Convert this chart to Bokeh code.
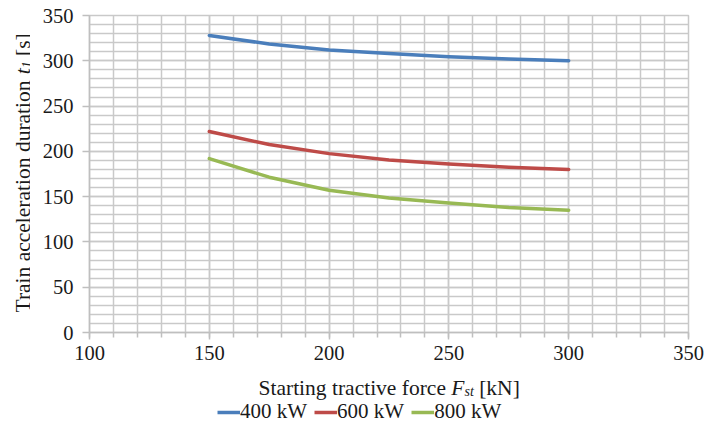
from bokeh.plotting import figure
from bokeh.layouts import row, column
from bokeh.models import Range1d, SingleIntervalTicker, Label, Legend, LegendItem
from bokeh.embed import file_html
from bokeh.resources import INLINE
import math

# ---- data ----
force_kn = [150, 175, 200, 225, 250, 275, 300]
t_400kw = [328, 318.5, 312, 308, 304.5, 302, 300]
t_600kw = [222, 207.5, 197.5, 190.5, 186, 182.5, 180]
t_800kw = [192, 171.5, 157, 148.5, 143, 138, 135]
series = [t_400kw, t_600kw, t_800kw]
series_names = ["400 kW", "600 kW", "800 kW"]
series_colors = ["#4A7EBB", "#BE4B48", "#98B954"]
x_range = (100, 350)
y_range = (0, 350)

FONT = "Liberation Serif"
GRID = "#c9c9c9"
TXT = "#1a1a1a"

# overall page geometry (pixels)
W, H = 705, 426
LEFT_W = 30            # strip holding the y title
MAIN_H = 372           # main chart height
FL, FT = 89, 15        # frame left / top in page pixels
FRAME_W, FRAME_H = 599, 317

MW = W - LEFT_W
p = figure(frame_width=FRAME_W, frame_height=FRAME_H, output_backend="svg", toolbar_location=None,
           title=None,
           x_range=Range1d(*x_range), y_range=Range1d(*y_range),
           min_border_left=FL - LEFT_W, min_border_right=MW - (FL - LEFT_W) - FRAME_W,
           min_border_top=FT, min_border_bottom=MAIN_H - FT - FRAME_H)
p.background_fill_color = "white"
p.border_fill_color = "white"
p.outline_line_color = GRID
p.outline_line_width = 1.5

for ax in (p.xaxis[0], p.yaxis[0]):
    ax.ticker = SingleIntervalTicker(interval=50, num_minor_ticks=5)
    ax.axis_line_color = "#bfbfbf"
    ax.axis_line_width = 1.5
    ax.major_tick_line_color = "#bfbfbf"
    ax.minor_tick_line_color = "#bfbfbf"
    ax.major_tick_line_width = 1.5
    ax.minor_tick_line_width = 1.5
    ax.major_label_text_font = FONT
    ax.major_label_text_font_size = "20.5px"
    ax.major_label_text_color = TXT
    ax.major_tick_in = 0

p.xaxis.major_tick_out = 7
p.xaxis.minor_tick_out = 5
p.xaxis.minor_tick_in = 0
p.xaxis.major_label_standoff = 6
p.yaxis.major_tick_out = 7
p.yaxis.minor_tick_out = 0
p.yaxis.minor_tick_in = 0
p.yaxis.major_label_standoff = 9

for g in (p.xgrid[0], p.ygrid[0]):
    g.grid_line_color = GRID
    g.grid_line_width = 1.5
    g.minor_grid_line_color = GRID
    g.minor_grid_line_width = 1.5

for ys, c in zip(series, series_colors):
    p.line(force_kn, ys, line_color=c, line_width=3.5, line_cap="round", line_join="round")


def strip(width, height, x0, y0):
    """A bare figure whose frame fills it; data units == page pixels (y downwards)."""
    f = figure(frame_width=width, frame_height=height, output_backend="svg", toolbar_location=None,
               title=None, x_axis_type=None, y_axis_type=None,
               x_range=Range1d(x0, x0 + width), y_range=Range1d(y0 + height, y0),
               min_border=0, min_border_left=0, min_border_right=0,
               min_border_top=0, min_border_bottom=0)
    f.outline_line_color = None
    f.background_fill_color = "white"
    f.border_fill_color = "white"
    f.grid.visible = False
    return f


fy = strip(LEFT_W, MAIN_H, 0, 0)
fb = strip(W, H - MAIN_H, 0, MAIN_H)

# ---- axis titles composed of styled pieces (Times metrics) ----
REG = {' ': 250, '[': 333, ']': 333, 'S': 556, 't': 278, 'a': 444, 'r': 333, 'i': 278,
       'n': 500, 'g': 500, 'c': 444, 'v': 500, 'e': 444, 'f': 333, 'o': 500, 'T': 611,
       'l': 278, 'd': 500, 'u': 500, 's': 389, 'k': 500, 'N': 722}
ITA = {'t': 278, 'F': 611, 's': 389, '1': 500}


def tw(s, size, italic):
    tab = ITA if italic else REG
    return sum(tab[ch] for ch in s) / 1000.0 * size


LS, SS = 21.5, 14


def place(fig, pieces, px0, py0, vertical):
    pos = 0.0
    for text, italic, size, shift in pieces:
        lead = len(text) - len(text.lstrip(" "))
        pos += tw(" " * lead, LS, False)
        body = text.strip(" ")
        if vertical:
            sx, sy, ang = px0 + shift, py0 - pos, math.pi / 2
        else:
            sx, sy, ang = px0 + pos, py0 + shift, 0
        fig.add_layout(Label(x=sx, y=sy, text=body,
                             angle=ang, text_font=FONT, text_font_size=f"{size}px",
                             text_font_style="italic" if italic else "normal",
                             text_color=TXT, text_align="left", text_baseline="alphabetic"))
        pos += tw(text.lstrip(" "), size, italic)


xlabel = [("Starting tractive force ", False, LS, 0), ("F", True, LS, 0),
          ("st", True, SS, 4), (" [kN]", False, LS, 0)]
ylabel = [("Train acceleration duration ", False, LS, 0), ("t", True, LS, 0),
          ("1", True, SS, 4), (" [s]", False, LS, 0)]
place(fb, xlabel, 258, 387, False)
place(fy, ylabel, 22, 297, True)

# legend: renderers carry the real series but sit outside this strip's visible range
leg_r = [fb.line(force_kn, ys, line_color=c, line_width=3.5) for ys, c in zip(series, series_colors)]
legend = Legend(items=[LegendItem(label=n, renderers=[r]) for n, r in zip(series_names, leg_r)],
                location=(217, 2), orientation="horizontal",
                glyph_width=23, glyph_height=20, label_standoff=0, spacing=7,
                padding=0, margin=0, border_line_color=None, background_fill_alpha=0,
                label_text_font=FONT, label_text_font_size="21px", label_text_color=TXT)
fb.add_layout(legend)

layout = column(row(fy, p, spacing=0), fb, spacing=0)
open("out.html", "w").write(file_html(layout, INLINE))
